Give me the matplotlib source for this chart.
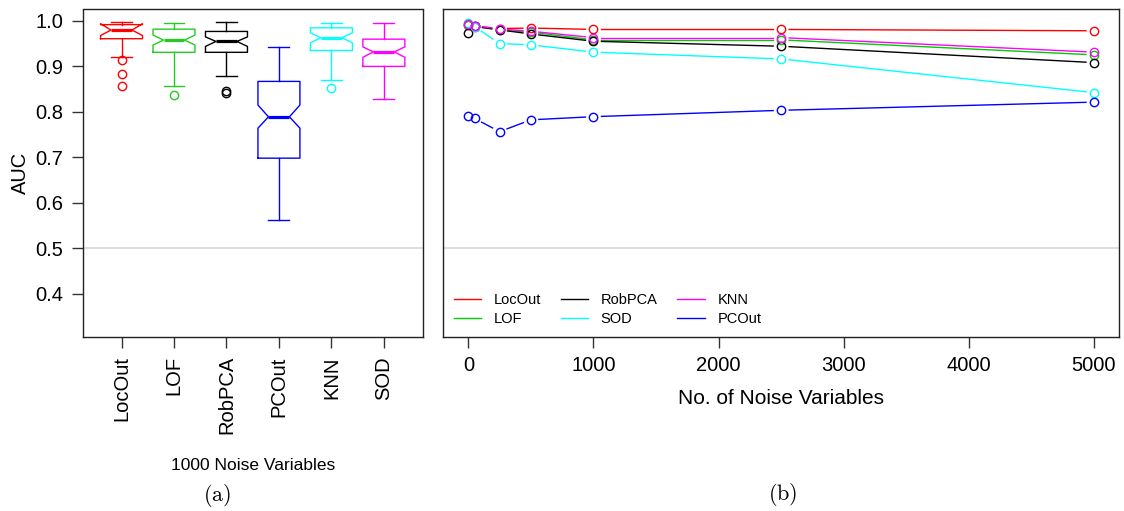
import numpy as np
import matplotlib
matplotlib.use("Agg")
import matplotlib.pyplot as plt
from matplotlib.lines import Line2D

plt.rcParams['font.family'] = ['Liberation Sans', 'DejaVu Sans']
plt.rcParams['mathtext.fontset'] = 'cm'

# ---------------- data ----------------
box_labels = ['LocOut', 'LOF', 'RobPCA', 'PCOut', 'KNN', 'SOD']
box_colors = ['#FF0000', '#22CC22', '#000000', '#0000FF', '#00FFFF', '#FF00FF']
box_med    = [0.980, 0.958, 0.955, 0.789, 0.963, 0.932]
box_q1     = [0.961, 0.931, 0.931, 0.698, 0.935, 0.900]
box_q3     = [0.992, 0.982, 0.977, 0.867, 0.985, 0.960]
box_whislo = [0.921, 0.857, 0.878, 0.561, 0.870, 0.829]
box_whishi = [0.998, 0.996, 0.998, 0.943, 0.996, 0.996]
box_cilo   = [0.968, 0.947, 0.944, 0.764, 0.952, 0.920]
box_cihi   = [0.994, 0.969, 0.965, 0.815, 0.974, 0.943]
box_fliers = [[0.914, 0.884, 0.856], [0.838], [0.842, 0.846], [], [0.852], []]

noise_vars = [0, 50, 250, 500, 1000, 2500, 5000]
series_names = ['LocOut', 'LOF', 'RobPCA', 'SOD', 'KNN', 'PCOut']
series_colors = ['#FF0000', '#00CD00', '#000000', '#00FFFF', '#FF00FF', '#0000FF']
auc_locout = [0.990, 0.988, 0.983, 0.984, 0.981, 0.981, 0.978]
auc_lof    = [0.990, 0.987, 0.980, 0.975, 0.958, 0.958, 0.925]
auc_robpca = [0.973, 0.988, 0.980, 0.971, 0.955, 0.944, 0.908]
auc_sod    = [0.995, 0.987, 0.950, 0.947, 0.931, 0.916, 0.842]
auc_knn    = [0.993, 0.989, 0.982, 0.977, 0.963, 0.963, 0.931]
auc_pcout  = [0.791, 0.785, 0.756, 0.782, 0.789, 0.803, 0.821]
series_values = [auc_locout, auc_lof, auc_robpca, auc_sod, auc_knn, auc_pcout]

y_ticks = [0.4, 0.5, 0.6, 0.7, 0.8, 0.9, 1.0]
x_ticks = [0, 1000, 2000, 3000, 4000, 5000]

# ---------------- figure ----------------
W, H = 1124, 511
fig = plt.figure(figsize=(W / 100, H / 100), dpi=100)

def px_axes(x0, y0, x1, y1):
    return fig.add_axes([x0 / W, 1 - y1 / H, (x1 - x0) / W, (y1 - y0) / H])

ylim = (0.3047, 1.0253)
tick_fs = 14.5
frame_color = '#222222'

# ---- panel (a) boxplots ----
axa = px_axes(82.7, 9.5, 422.7, 336.8)
axa.axhline(0.5, color='#D3D3D3', lw=1.1, zorder=0)
for i in range(len(box_labels)):
    st = dict(med=box_med[i], q1=box_q1[i], q3=box_q3[i],
              whislo=box_whislo[i], whishi=box_whishi[i],
              cilo=box_cilo[i], cihi=box_cihi[i], fliers=box_fliers[i],
              label=box_labels[i])
    c = box_colors[i]
    axa.bxp([st], positions=[i + 1], widths=0.8, capwidths=0.4, shownotches=True,
            boxprops=dict(color=c, lw=1.0),
            whiskerprops=dict(color=c, lw=1.0, linestyle='-'),
            capprops=dict(color=c, lw=1.0),
            medianprops=dict(color=c, lw=2.3, solid_capstyle='butt'),
            flierprops=dict(marker='o', markerfacecolor='none', markeredgecolor=c,
                            markersize=6, markeredgewidth=1.0, linestyle='none'))
axa.set_xlim(0.26, 6.74)
axa.set_ylim(*ylim)
axa.set_xticks(range(1, len(box_labels) + 1))
axa.set_xticklabels(box_labels, rotation=90, fontsize=tick_fs)
axa.set_yticks(y_ticks)
axa.set_yticklabels([f'{v:.1f}' for v in y_ticks], fontsize=tick_fs)
axa.tick_params(axis='both', length=8, width=1, color='#333333', pad=6)
axa.set_ylabel('AUC', fontsize=tick_fs, labelpad=4)
for s in axa.spines.values():
    s.set_color(frame_color)
    s.set_linewidth(1.0)

# ---- panel (b) lines ----
axb = px_axes(443.3, 9.3, 1119, 336.7)
axb.axhline(0.5, color='#D3D3D3', lw=1.1, zorder=0)
axb.set_xlim(-200, 5200)
axb.set_ylim(*ylim)
axb.set_yticks([])
axb.set_xticks(x_ticks)
axb.set_xticklabels([str(v) for v in x_ticks], fontsize=tick_fs)
axb.tick_params(axis='x', length=8, width=1, color='#333333', pad=6)
axb.set_xlabel('No. of Noise Variables', fontsize=tick_fs + 0.5, labelpad=10)
for s in axb.spines.values():
    s.set_color(frame_color)
    s.set_linewidth(1.0)

def gapped(ax, x, y, color, gap_px=8.0):
    pts = ax.transData.transform(np.column_stack([x, y]))
    inv = ax.transData.inverted()
    for p0, p1 in zip(pts[:-1], pts[1:]):
        d = p1 - p0
        L = np.hypot(*d)
        if L <= 2 * gap_px:
            continue
        u = d / L
        a = inv.transform(p0 + u * gap_px)
        b = inv.transform(p1 - u * gap_px)
        ax.plot([a[0], b[0]], [a[1], b[1]], color=color, lw=1.0)
    ax.plot(x, y, 'o', mfc='none', mec=color, ms=6, mew=1.0, linestyle='none')

for name, vals, c in zip(series_names, series_values, series_colors):
    gapped(axb, noise_vars, vals, c)

order = ['LocOut', 'LOF', 'RobPCA', 'SOD', 'KNN', 'PCOut']
handles = [Line2D([], [], color=series_colors[series_names.index(n)], lw=1.0) for n in order]
axb.legend(handles, order, loc='lower left', ncol=3, frameon=False, fontsize=10.5,
           handlelength=1.9, handletextpad=0.85, columnspacing=1.35,
           labelspacing=0.35, borderaxespad=0.3, bbox_to_anchor=(0.0, 0.0))

# ---- captions ----
fig.text(253 / W, 1 - 465.5 / H, '1000 Noise Variables', ha='center', va='center', fontsize=12.5)
fig.text(217 / W, 1 - 495 / H, r'$\mathrm{(a)}$', ha='center', va='center', fontsize=16)
fig.text(783 / W, 1 - 494 / H, r'$\mathrm{(b)}$', ha='center', va='center', fontsize=16)

fig.savefig('out.png', dpi=100)
